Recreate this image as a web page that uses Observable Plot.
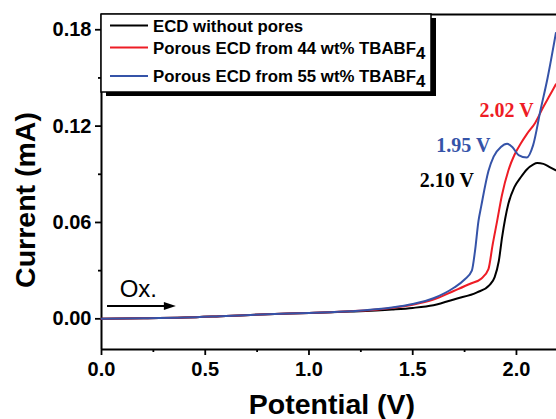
<!DOCTYPE html>
<html><head><meta charset="utf-8">
<script src="https://cdn.jsdelivr.net/npm/d3@7"></script>
<script src="https://cdn.jsdelivr.net/npm/@observablehq/plot@0.6"></script>
<style>body{margin:0;background:#fff;overflow:hidden} svg{display:block}</style>
</head><body><div id="chart"></div>
<script>
// ---- data ----
const seriesNames = ["ECD without pores", "Porous ECD from 44 wt% TBABF", "Porous ECD from 55 wt% TBABF"];
const seriesColors = ["#000000", "#ee1c25", "#3553a8"];

const blackV = [0,0.2,0.4,0.6,0.8,1.0,1.2,1.4,1.5,1.6,1.71,1.81,1.87,1.895,1.915,1.931,1.961,1.99,2.02,2.05,2.08,2.10,2.13,2.16,2.19];
const blackI = [0,0.0003,0.0008,0.0018,0.0028,0.0036,0.0045,0.0058,0.0068,0.0085,0.0125,0.0165,0.021,0.026,0.036,0.051,0.0716,0.082,0.088,0.093,0.096,0.097,0.0965,0.0945,0.0925];

const redV = [0,0.2,0.4,0.6,0.8,1.0,1.2,1.4,1.5,1.6,1.7,1.78,1.83,1.865,1.885,1.907,1.93,1.961,1.99,2.02,2.05,2.09,2.13,2.16,2.19];
const redI = [0,0.0003,0.0008,0.0018,0.0028,0.0037,0.0047,0.0068,0.0088,0.012,0.0175,0.022,0.025,0.031,0.046,0.061,0.077,0.0924,0.102,0.109,0.115,0.122,0.132,0.139,0.146];

const blueV = [0,0.2,0.4,0.6,0.8,1.0,1.2,1.4,1.5,1.6,1.7,1.75,1.785,1.80,1.817,1.83,1.865,1.89,1.925,1.955,1.98,2.01,2.05,2.08,2.116,2.15,2.19];
const blueI = [0,0.0003,0.0008,0.0018,0.0028,0.0037,0.0047,0.007,0.0092,0.0128,0.0195,0.0245,0.03,0.042,0.061,0.07,0.092,0.101,0.107,0.109,0.107,0.102,0.1005,0.108,0.13,0.15,0.178];

const yMajor = [0, 0.06, 0.12, 0.18];
const yMinor = [0.03, 0.09, 0.15];
const xMajor = [0, 0.5, 1.0, 1.5, 2.0];
const xMinor = [0.25, 0.75, 1.25, 1.75];
const xDomain = [0, 2.193];
const yDomain = [-0.0191, 0.1895];

const peakLabels = ["2.02 V", "1.95 V", "2.10 V"];
const peakLabelV = [1.822, 1.614, 1.534];
const peakLabelI = [0.1299, 0.1081, 0.0863];
const peakColors = ["#ee1c25", "#3553a8", "#000000"];

const oxArrow = {x1: 0.029, x2: 0.361, y: 0.0077, textX: 0.09, textY: 0.0135};

// ---- build tables ----
const rows = [];
[[blackV, blackI], [redV, redI], [blueV, blueI]].forEach(([vs, is], k) => {
  vs.forEach((v, i) => rows.push({s: k, V: v, I: is[i]}));
});
const labels = peakLabels.map((t, i) => ({t, V: peakLabelV[i], I: peakLabelI[i], c: peakColors[i]}));

const chart = Plot.plot({
  width: 556, height: 419,
  marginLeft: 101, marginRight: 0, marginTop: 14, marginBottom: 70,
  style: {fontFamily: "'Liberation Sans', Arial, sans-serif", background: "#fff"},
  x: {domain: xDomain},
  y: {domain: yDomain},
  marks: [
    Plot.axisY({ticks: yMajor, tickSize: 6, tickPadding: 4, tickFormat: d3.format(".2f"), fontSize: 20, fontWeight: "bold", label: null, strokeWidth: 1.8}),
    Plot.axisY({ticks: yMinor, tickSize: 3, tickFormat: () => "", label: null, strokeWidth: 1.8}),
    Plot.axisX({ticks: xMajor, tickSize: 6, tickPadding: 6, tickFormat: d3.format(".1f"), fontSize: 20, fontWeight: "bold", label: null, strokeWidth: 1.8}),
    Plot.axisX({ticks: xMinor, tickSize: 3, tickFormat: () => "", label: null, strokeWidth: 1.8}),
    Plot.ruleX([xDomain[0]], {strokeWidth: 2}),
    Plot.ruleY([yDomain[0]], {strokeWidth: 2}),
    Plot.ruleY([yDomain[1]], {strokeWidth: 2}),
    Plot.line(rows, {x: "V", y: "I", z: "s", stroke: d => seriesColors[d.s], strokeWidth: 2, curve: "monotone-x"}),
    Plot.text(labels, {x: "V", y: "I", text: "t", fill: "c", textAnchor: "start", lineAnchor: "middle", fontSize: 20, fontWeight: "bold", fontFamily: "'Liberation Serif', 'Times New Roman', serif"})
  ]
});
document.getElementById("chart").appendChild(chart);

const sx = chart.scale("x"), sy = chart.scale("y");
const svg = d3.select(chart);

// Ox. arrow
const ax1 = sx.apply(oxArrow.x1), ax2 = sx.apply(oxArrow.x2), ay = sy.apply(oxArrow.y);
svg.append("line").attr("x1", ax1).attr("x2", ax2 - 9).attr("y1", ay).attr("y2", ay).attr("stroke", "#000").attr("stroke-width", 2);
svg.append("path").attr("d", `M${ax2},${ay} L${ax2 - 12},${ay - 4} L${ax2 - 12},${ay + 4} Z`).attr("fill", "#000");
svg.append("text").attr("x", sx.apply(oxArrow.textX)).attr("y", sy.apply(oxArrow.textY)).attr("text-anchor", "start")
  .attr("font-size", 24).attr("font-family", "'Liberation Sans', Arial, sans-serif").text("Ox.");

// Legend box with shadow
const lg = svg.append("g").attr("text-anchor", "start");
const bx = 101, by = 14, bw = 330, bh = 78;
lg.append("rect").attr("x", bx + 5).attr("y", by + 4).attr("width", bw).attr("height", bh).attr("fill", "#000");
lg.append("rect").attr("x", bx).attr("y", by).attr("width", bw).attr("height", bh).attr("fill", "#fff").attr("stroke", "#000").attr("stroke-width", 1.5);
const rowY = [25.5, 47.5, 76];
seriesNames.forEach((name, i) => {
  lg.append("line").attr("x1", 110).attr("x2", 148).attr("y1", rowY[i]).attr("y2", rowY[i])
    .attr("stroke", seriesColors[i]).attr("stroke-width", 2);
  const t = lg.append("text").attr("x", 153).attr("y", rowY[i] + 6).attr("text-anchor", "start")
    .attr("font-size", 16.8).attr("font-weight", "bold").attr("font-family", "'Liberation Sans', Arial, sans-serif").text(name);
  if (i > 0) t.append("tspan").attr("dy", 5).attr("font-size", 16.8).text("4");
});

// Axis titles
svg.append("text").attr("x", 332).attr("y", 414).attr("text-anchor", "middle")
  .attr("font-size", 28.5).attr("font-weight", "bold").attr("font-family", "'Liberation Sans', Arial, sans-serif").text("Potential (V)");
svg.append("text").attr("transform", "translate(35,200) rotate(-90)").attr("text-anchor", "middle")
  .attr("font-size", 28.5).attr("font-weight", "bold").attr("font-family", "'Liberation Sans', Arial, sans-serif").text("Current (mA)");
</script></body></html>
